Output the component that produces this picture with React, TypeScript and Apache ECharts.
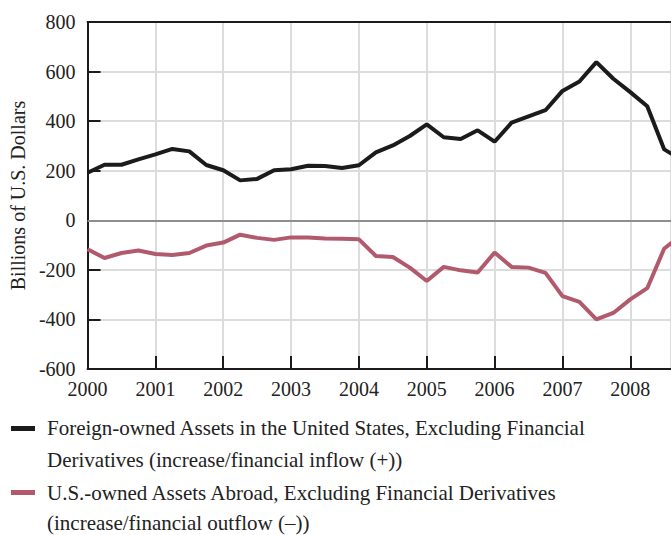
import React, { useEffect, useRef } from "react";
import * as echarts from "echarts";

const quarters: number[] = [
  2000, 2000.25, 2000.5, 2000.75, 2001, 2001.25, 2001.5, 2001.75,
  2002, 2002.25, 2002.5, 2002.75, 2003, 2003.25, 2003.5, 2003.75,
  2004, 2004.25, 2004.5, 2004.75, 2005, 2005.25, 2005.5, 2005.75,
  2006, 2006.25, 2006.5, 2006.75, 2007, 2007.25, 2007.5, 2007.75,
  2008, 2008.25, 2008.5, 2008.75,
];

const foreignOwned: number[] = [
  192, 224, 224, 246, 266, 288, 278, 223,
  202, 161, 167, 202, 206, 220, 219, 211,
  222, 274, 302, 340, 387, 335, 328, 363,
  317, 394, 419, 444, 522, 560, 638, 571,
  517, 460, 286, 245,
];

const usOwned: number[] = [
  -117, -152, -132, -122, -136, -140, -132, -102,
  -90, -58, -71, -79, -69, -69, -73, -74,
  -77, -144, -148, -191, -245, -188, -202, -211,
  -130, -188, -191, -212, -306, -329, -400, -374,
  -319, -274, -114, -60,
];

const seriesNames: string[][] = [
  [
    "Foreign-owned Assets in the United States, Excluding Financial",
    "Derivatives (increase/financial inflow (+))",
  ],
  [
    "U.S.-owned Assets Abroad, Excluding Financial Derivatives",
    "(increase/financial outflow (\u2013))",
  ],
];

const yAxisTitle = "Billions of U.S. Dollars";

const BLACK = "#1c1a1b";
const RED = "#b25a6d";
const FONT = "Liberation Serif";

export default function App() {
  const ref = useRef<HTMLDivElement>(null);
  useEffect(() => {
    if (!ref.current) return;
    const chart = echarts.init(ref.current, undefined, { renderer: "svg" });
    const pair = (xs: number[], ys: number[]) => xs.map((x, i) => [x, ys[i]]);
    const legendLine = (text: string, y: number) => ({
      type: "text",
      x: 47,
      y,
      style: {
        text,
        fill: "#222",
        font: `21px "${FONT}"`,
        verticalAlign: "middle",
        align: "left",
      },
    });
    chart.setOption({
      animation: false,
      backgroundColor: "#ffffff",
      textStyle: { fontFamily: FONT },
      grid: { left: 81, top: 22, right: 0, bottom: 166, containLabel: false },
      xAxis: [
        {
          type: "value",
          min: 2000,
          max: 2008.6,
          interval: 1,
          position: "bottom",
          axisLine: { show: true, onZero: false, lineStyle: { color: BLACK, width: 2 } },
          axisTick: { show: true, inside: true, length: 13, lineStyle: { color: BLACK, width: 2 } },
          axisLabel: {
            color: "#222",
            fontSize: 20,
            fontFamily: FONT,
            margin: 10,
            showMaxLabel: false,
            formatter: (v: number) => String(Math.round(v)),
          },
          splitLine: { show: true, lineStyle: { color: "#dcdcdc", width: 2 } },
        },
        {
          type: "value",
          min: 2000,
          max: 2008.6,
          interval: 1,
          position: "top",
          axisLine: { show: true, onZero: false, lineStyle: { color: BLACK, width: 2 } },
          axisTick: { show: false },
          axisLabel: { show: false },
          splitLine: { show: false },
        },
      ],
      yAxis: {
        type: "value",
        min: -600,
        max: 800,
        interval: 200,
        name: yAxisTitle,
        nameLocation: "middle",
        nameGap: 52,
        nameTextStyle: { color: "#222", fontSize: 20, fontFamily: FONT },
        axisLine: { show: true, onZero: false, lineStyle: { color: BLACK, width: 2 } },
        axisTick: { show: true, inside: true, length: 13, lineStyle: { color: BLACK, width: 2 } },
        axisLabel: { color: "#222", fontSize: 20, fontFamily: FONT, margin: 12 },
        splitLine: { show: true, lineStyle: { color: "#dcdcdc", width: 2 } },
      },
      series: [
        {
          name: seriesNames[0].join(" "),
          type: "line",
          data: pair(quarters, foreignOwned),
          showSymbol: false,
          lineStyle: { color: BLACK, width: 4 },
          itemStyle: { color: BLACK },
          clip: true,
          z: 5,
          markLine: {
            silent: true,
            symbol: "none",
            label: { show: false },
            lineStyle: { color: "#8e8d8f", width: 2, type: "solid" },
            data: [{ yAxis: 0 }],
            z: 2,
          },
        },
        {
          name: seriesNames[1].join(" "),
          type: "line",
          data: pair(quarters, usOwned),
          showSymbol: false,
          lineStyle: { color: RED, width: 4 },
          itemStyle: { color: RED },
          clip: true,
          z: 5,
        },
      ],
      graphic: [
        { type: "rect", left: 11, top: 426, shape: { width: 24, height: 5 }, style: { fill: BLACK } },
        legendLine(seriesNames[0][0], 428),
        legendLine(seriesNames[0][1], 460),
        { type: "rect", left: 11, top: 490, shape: { width: 24, height: 5 }, style: { fill: RED } },
        legendLine(seriesNames[1][0], 493),
        legendLine(seriesNames[1][1], 523),
      ],
    });
    return () => chart.dispose();
  }, []);
  return (
    <div
      ref={ref}
      style={{ position: "fixed", left: 0, top: 0, width: 671, height: 535, background: "#fff" }}
    />
  );
}
